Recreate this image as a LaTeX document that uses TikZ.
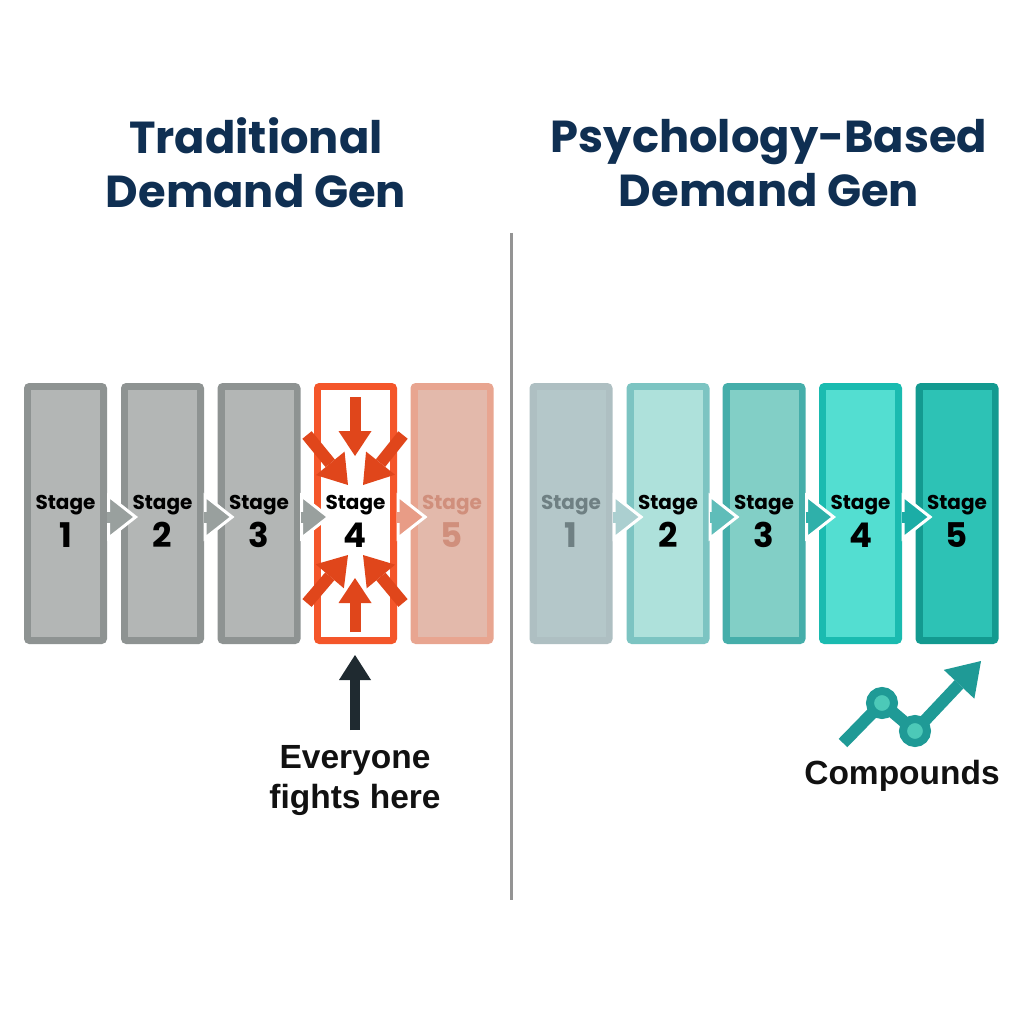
\documentclass[tikz,border=0pt]{standalone}
\usepackage{fontspec}
\setmainfont{Poppins}
\newfontfamily\labelfont{Liberation Sans}
\usetikzlibrary{arrows.meta}
\pgfdeclarelayer{top}
\pgfsetlayers{main,top}
\definecolor{navy}{HTML}{0F2F52}
\definecolor{flowgray}{HTML}{99A09E}
\definecolor{flowpeach}{HTML}{E89C86}
\definecolor{flowa}{HTML}{ABCFD0}
\definecolor{flowb}{HTML}{5FBDB9}
\definecolor{flowc}{HTML}{2FB0AA}
\definecolor{flowd}{HTML}{1BADA6}
\definecolor{hot}{HTML}{E0461B}
\definecolor{darkarrow}{HTML}{1F2A30}
\definecolor{growth}{HTML}{1F9A96}
\definecolor{growthin}{HTML}{4CC9B8}
\definecolor{inkk}{HTML}{111111}
\definecolor{fadedpeach}{HTML}{D08F7C}
\definecolor{fadedgray}{HTML}{6F8083}
\tikzset{
  x=1pt,y=-1pt,
  stagebox/.style={rounded corners=5pt,minimum width=83pt,minimum height=261pt,inner sep=0pt,outer sep=0pt},
  titletext/.style={font=\fontsize{44.8}{54}\selectfont\bfseries,text=navy,align=center,inner sep=0pt},
  stagelabel/.style={font=\fontsize{20}{20}\selectfont\bfseries,inner sep=0pt},
  stagenum/.style={font=\fontsize{34}{34}\selectfont\bfseries,inner sep=0pt},
  sidetext/.style={font=\labelfont\fontsize{33.5}{40}\selectfont\bfseries,text=inkk,align=center,inner sep=0pt},
  flowhead/.style={line width=11pt,draw=#1,-{Triangle[length=31pt,width=48pt,fill=#1,color=white,line width=3pt]}},
  flowshaft/.style={line width=11pt,draw=#1},
  crush/.style={line width=11pt,draw=hot,-{Triangle[length=25pt,width=33pt,fill=hot,color=hot,line width=0pt]}},
  crushdiag/.style={line width=12pt,draw=hot,-{Triangle[length=28pt,width=37pt,fill=hot,color=hot,line width=0pt]}},
  pointer/.style={line width=10pt,draw=darkarrow,-{Triangle[length=25pt,width=32pt,fill=darkarrow,color=darkarrow,line width=0pt]}},
  rise/.style={line width=12pt,draw=growth},
  risenode/.style={circle,fill=growthin,draw=growth,line width=8pt,minimum size=24pt,inner sep=0pt},
}
% name, x, border, fill
\newcommand{\stg}[4]{%
  \definecolor{tmpb}{HTML}{#3}\definecolor{tmpf}{HTML}{#4}%
  \node[stagebox,fill=tmpb] (#1) at (#2,513.5) {};
  \fill[tmpf] ([xshift=7pt,yshift=-7pt]#1.north west) rectangle ([xshift=-7pt,yshift=7pt]#1.south east);}
% box name, colour, number
\newcommand{\stgtext}[3]{%
  \node[stagelabel,text=#2,anchor=center] (#1s) at ([yshift=8pt]#1.center) {Stage};
  \node[stagenum,text=#2,anchor=center] (#1d) at ([yshift=-21.5pt]#1.center) {#3};}
% from, to, colour
\newcommand{\flw}[3]{%
  \draw[flowhead=#3] ([yshift=-3.5pt]#1.east) -- ([xshift=17pt,yshift=-3.5pt]#2.west);
  \draw[flowshaft=#3] ([yshift=-3.5pt]#1.east) -- ([xshift=12pt,yshift=-3.5pt]#1.east);}
\begin{document}
\begin{tikzpicture}
\useasboundingbox (0,0) rectangle (1024,1024);
\fill[white] (0,0) rectangle (1024,1024);
\node[titletext] (tl) at (256,163) {Traditional\\Demand Gen};
\node[titletext] (tr) at (769,163) {Psychology-Based\\Demand Gen};
\coordinate (dtop) at (511.5,233);\coordinate (dbot) at (511.5,900);
\draw[line width=3.5pt,draw=black!42] (dtop) -- (dbot);
\stg{a}{65.5}{8E9392}{B3B6B5}
\stg{b}{162.5}{8E9392}{B3B6B5}
\stg{c}{259}{8E9392}{B3B6B5}
\stg{d}{355.5}{F4562A}{FFFFFF}
\stg{e}{452}{E8A590}{E3B9AB}
\stg{f}{571}{AEBFC2}{B4C7C9}
\stg{g}{668}{7CC4C2}{AEE1DB}
\stg{h}{764}{45AEAA}{82CFC6}
\stg{i}{860.5}{1ABBB0}{53DED1}
\stg{j}{957}{139A90}{2DC2B5}
\flw{a}{b}{flowgray}
\flw{b}{c}{flowgray}
\flw{c}{d}{flowgray}
\flw{d}{e}{flowpeach}
\flw{f}{g}{flowa}
\flw{g}{h}{flowb}
\flw{h}{i}{flowc}
\flw{i}{j}{flowd}
% converging arrows
\coordinate (t0) at (355,397);\coordinate (t1) at (355,456);
\coordinate (b0) at (355,632);\coordinate (b1) at (355,578);
\coordinate (l0) at (307,435);\coordinate (l1) at (348,485);
\coordinate (r0) at (403,435);\coordinate (r1) at (363,485);
\coordinate (m0) at (307,603);\coordinate (m1) at (348,555);
\coordinate (n0) at (403,603);\coordinate (n1) at (363,555);
\draw[crush] (t0) -- (t1);
\draw[crush] (b0) -- (b1);
\draw[crushdiag] (l0) -- (l1);
\draw[crushdiag] (r0) -- (r1);
\draw[crushdiag] (m0) -- (m1);
\draw[crushdiag] (n0) -- (n1);
\stgtext{a}{black}{1}
\stgtext{b}{black}{2}
\stgtext{c}{black}{3}
\stgtext{d}{black}{4}
\stgtext{e}{fadedpeach}{5}
\stgtext{f}{fadedgray}{1}
\stgtext{g}{black}{2}
\stgtext{h}{black}{3}
\stgtext{i}{black}{4}
\stgtext{j}{black}{5}
% pointer
\node[sidetext] (ev) at (355,781) {Everyone\\fights here};
\coordinate (p0) at (355,730);\coordinate (p1) at (355,655);
\draw[pointer] (p0) -- (p1);
% growth line
\coordinate (g0) at (843,743);\coordinate (g3) at (981,661);
\begin{pgfonlayer}{top}
\node[risenode] (g1) at (882,703) {};
\node[risenode] (g2) at (915,731) {};
\end{pgfonlayer}
\draw[rise,-{Triangle[length=32pt,width=42pt,fill=growth,color=growth,line width=0pt]}] (g2.center) -- (g3);
\draw[rise] (g0) -- (g1.center);
\draw[rise] (g1.center) -- (g2.center);
\node[sidetext] (cp) at (902,776) {Compounds};
\end{tikzpicture}
\end{document}
